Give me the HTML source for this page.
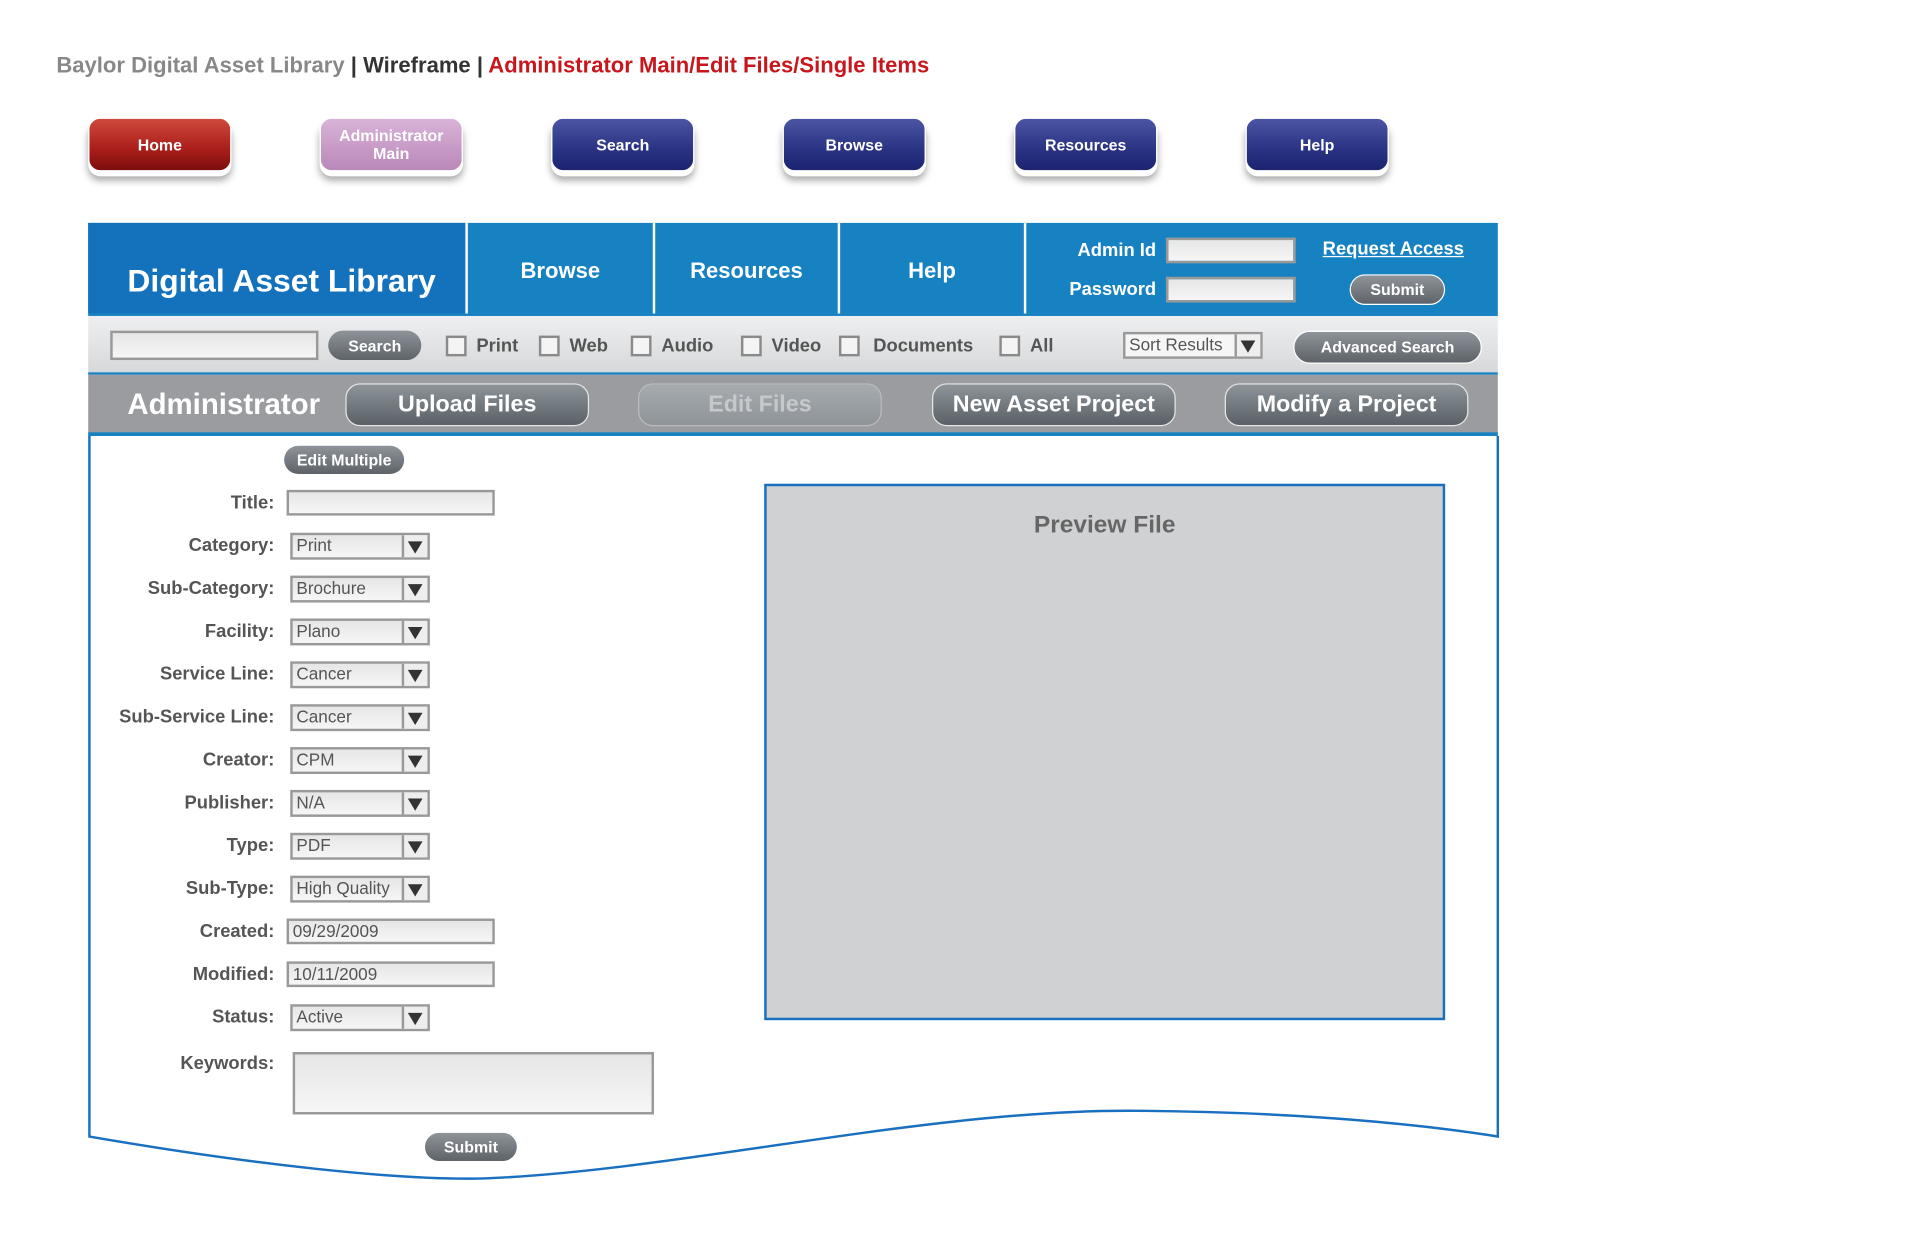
<!DOCTYPE html>
<html><head><meta charset="utf-8"><style>
html,body{margin:0;padding:0;background:#fff;overflow:hidden;width:1920px;height:1242px}
#w{position:absolute;left:0;top:0;width:1568px;height:1015px;transform:scale(1.2247);transform-origin:0 0;font-family:"Liberation Sans",sans-serif}
.a{position:absolute}
.nb{position:absolute;top:96px;width:115px;height:42px;border-radius:10px;color:#fff;font-weight:bold;font-size:13px;display:flex;align-items:center;justify-content:center;text-align:center;line-height:15px;box-shadow:0 4px 0 #fff,0 7px 6px rgba(0,0,0,.35);border:1px solid #fff}
.navy{background:linear-gradient(#4b55a3,#2a3383 60%,#1c2470)}
.gb{position:absolute;background:linear-gradient(#8e9499,#5d6368);color:#fff;font-weight:bold;display:flex;align-items:center;justify-content:center;border-radius:14px}
.ab{position:absolute;top:313px;width:197px;height:33px;border:1.5px solid #e6e6e6;border-radius:12px;background:linear-gradient(#8d949a,#5a6166);color:#fff;font-weight:bold;font-size:19px;display:flex;align-items:center;justify-content:center}
.inp{position:absolute;background:linear-gradient(#e6e6e6,#f6f6f6);border:2px solid #999;box-sizing:border-box}
.cb{position:absolute;top:274px;width:17px;height:17px;border:2px solid #8a8a8a;box-sizing:border-box;background:#f4f4f4}
.cl{position:absolute;top:274px;font-size:15px;font-weight:bold;color:#555}
.lb{position:absolute;left:60px;width:164px;text-align:right;font-size:15px;font-weight:bold;color:#555}
.sel{position:absolute;left:237px;width:114px;height:22px;border:2px solid #999;box-sizing:border-box;background:linear-gradient(#e6e6e6,#f6f6f6);font-size:14px;color:#555;padding-left:3px;line-height:17px}
.sel:after{content:"";position:absolute;right:0;top:0;width:19px;height:18px;border-left:2px solid #999;background:#eee}
.sel i{position:absolute;right:4px;top:5px;width:0;height:0;border-left:6px solid transparent;border-right:6px solid transparent;border-top:10px solid #333;z-index:2}
.ti{position:absolute;left:234px;width:170px;height:21px;font-size:14px;color:#555;padding-left:3px;line-height:17px}
</style></head><body><div id="w">
<div class="a" style="left:46px;top:43px;font-size:18px;font-weight:bold;color:#888;white-space:nowrap">Baylor Digital Asset Library <span style="color:#333">| Wireframe |</span> <span style="color:#c8161d">Administrator Main/Edit Files/Single Items</span></div>

<div class="nb" style="left:72px;background:linear-gradient(#cf4a3c,#a91d1a 60%,#7d0e0e)">Home</div>
<div class="nb" style="left:261px;background:linear-gradient(#d9b3d8,#b988b8)">Administrator<br>Main</div>
<div class="nb navy" style="left:450px">Search</div>
<div class="nb navy" style="left:639px">Browse</div>
<div class="nb navy" style="left:828px">Resources</div>
<div class="nb navy" style="left:1017px">Help</div>

<div class="a" style="left:72px;top:182px;width:1151px;height:74px;background:#1782c2"></div>
<div class="a" style="left:72px;top:182px;width:308px;height:74px;background:#1471bb"></div>
<div class="a" style="left:380px;top:182px;width:2px;height:74px;background:#fff"></div>
<div class="a" style="left:533px;top:182px;width:2px;height:74px;background:#fff"></div>
<div class="a" style="left:684px;top:182px;width:2px;height:74px;background:#fff"></div>
<div class="a" style="left:836px;top:182px;width:2px;height:74px;background:#fff"></div>
<div class="a" style="left:104px;top:214px;font-size:26px;font-weight:bold;color:#fff">Digital Asset Library</div>
<div class="a" style="left:382px;width:151px;top:211px;text-align:center;font-size:18px;font-weight:bold;color:#fff">Browse</div>
<div class="a" style="left:535px;width:149px;top:211px;text-align:center;font-size:18px;font-weight:bold;color:#fff">Resources</div>
<div class="a" style="left:686px;width:150px;top:211px;text-align:center;font-size:18px;font-weight:bold;color:#fff">Help</div>
<div class="a" style="left:850px;width:94px;top:196px;text-align:right;font-size:15px;font-weight:bold;color:#fff">Admin Id</div>
<div class="a" style="left:850px;width:94px;top:228px;text-align:right;font-size:15px;font-weight:bold;color:#fff">Password</div>
<div class="inp" style="left:952px;top:194px;width:106px;height:21px"></div>
<div class="inp" style="left:952px;top:226px;width:106px;height:21px"></div>
<div class="a" style="left:1080px;top:195px;font-size:15px;font-weight:bold;color:#fff;text-decoration:underline">Request Access</div>
<div class="gb" style="left:1102px;top:224px;width:76px;height:23px;border:1.5px solid #fff;font-size:13px">Submit</div>

<div class="a" style="left:72px;top:256px;width:1151px;height:2px;background:#1782c2"></div>
<div class="a" style="left:72px;top:258px;width:1151px;height:46px;background:linear-gradient(#eeeff0,#d6d8da)"></div>
<div class="a" style="left:72px;top:304px;width:1151px;height:2px;background:#1782c2"></div>
<div class="inp" style="left:90px;top:270px;width:170px;height:24px"></div>
<div class="gb" style="left:268px;top:270px;width:76px;height:24px;font-size:13px;border-radius:12px">Search</div>
<div class="cb" style="left:364px"></div><div class="cl" style="left:389px">Print</div>
<div class="cb" style="left:440px"></div><div class="cl" style="left:465px">Web</div>
<div class="cb" style="left:515px"></div><div class="cl" style="left:540px">Audio</div>
<div class="cb" style="left:605px"></div><div class="cl" style="left:630px">Video</div>
<div class="cb" style="left:685px"></div><div class="cl" style="left:713px">Documents</div>
<div class="cb" style="left:816px"></div><div class="cl" style="left:841px">All</div>
<div class="sel" style="left:917px;top:271px;width:114px;background:#f6f6f6">Sort Results<i></i></div>
<div class="gb" style="left:1056px;top:270px;width:152px;height:25px;font-size:13px;border:1.5px solid #fff">Advanced Search</div>

<div class="a" style="left:72px;top:306px;width:1151px;height:48px;background:#9a9c9f"></div>
<div class="a" style="left:72px;top:353px;width:1151px;height:3px;background:#1782c2"></div>
<div class="a" style="left:104px;top:317px;font-size:24px;font-weight:bold;color:#fff">Administrator</div>
<div class="ab" style="left:282px">Upload Files</div>
<div class="ab" style="left:521px;background:linear-gradient(#a6abaf,#8e9498);color:#c6c9cc;border-color:#bbb">Edit Files</div>
<div class="ab" style="left:761px">New Asset Project</div>
<div class="ab" style="left:1000px">Modify a Project</div>

<svg class="a" style="left:0;top:0" width="1568" height="1015">
<path d="M73 356 L73 928 C200 950 330 965 400 962 C560 955 760 905 930 907 C1060 908 1160 918 1223 928 L1223 356" fill="none" stroke="#1a70c0" stroke-width="2"/>
</svg>

<div class="gb" style="left:232px;top:364px;width:98px;height:23px;font-size:13px;border-radius:12px">Edit Multiple</div>

<div class="lb" style="top:402px">Title:</div><div class="inp" style="left:234px;top:400px;width:170px;height:21px"></div>
<div class="lb" style="top:437px">Category:</div><div class="sel" style="top:435px">Print<i></i></div>
<div class="lb" style="top:472px">Sub-Category:</div><div class="sel" style="top:470px">Brochure<i></i></div>
<div class="lb" style="top:507px">Facility:</div><div class="sel" style="top:505px">Plano<i></i></div>
<div class="lb" style="top:542px">Service Line:</div><div class="sel" style="top:540px">Cancer<i></i></div>
<div class="lb" style="top:577px">Sub-Service Line:</div><div class="sel" style="top:575px">Cancer<i></i></div>
<div class="lb" style="top:612px">Creator:</div><div class="sel" style="top:610px">CPM<i></i></div>
<div class="lb" style="top:647px">Publisher:</div><div class="sel" style="top:645px">N/A<i></i></div>
<div class="lb" style="top:682px">Type:</div><div class="sel" style="top:680px">PDF<i></i></div>
<div class="lb" style="top:717px">Sub-Type:</div><div class="sel" style="top:715px">High Quality<i></i></div>
<div class="lb" style="top:752px">Created:</div><div class="inp ti" style="top:750px">09/29/2009</div>
<div class="lb" style="top:787px">Modified:</div><div class="inp ti" style="top:785px">10/11/2009</div>
<div class="lb" style="top:822px">Status:</div><div class="sel" style="top:820px">Active<i></i></div>
<div class="lb" style="top:860px">Keywords:</div><div class="inp" style="left:239px;top:859px;width:295px;height:51px"></div>
<div class="gb" style="left:347px;top:925px;width:75px;height:23px;font-size:13px;border-radius:12px">Submit</div>

<div class="a" style="left:624px;top:395px;width:556px;height:438px;background:#d0d1d3;border:2px solid #1a70c0;box-sizing:border-box"></div>
<div class="a" style="left:624px;width:556px;top:418px;text-align:center;font-size:20px;font-weight:bold;color:#666">Preview File</div>
</div></body></html>
